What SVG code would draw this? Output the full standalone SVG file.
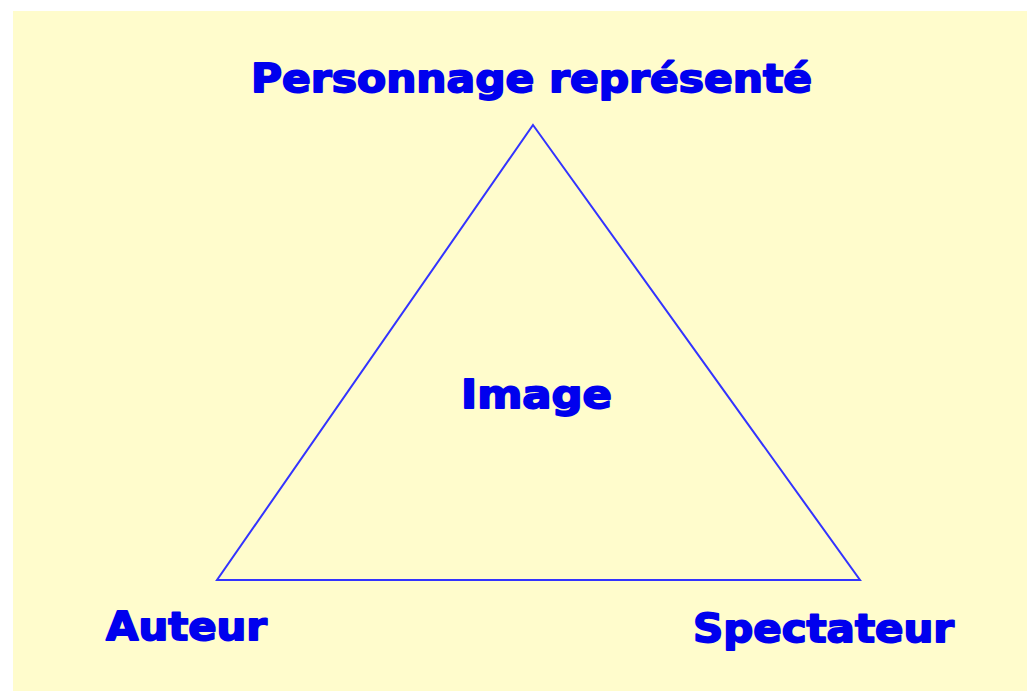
<svg xmlns="http://www.w3.org/2000/svg" width="1035" height="691" viewBox="0 0 1035 691">
<style>
.lbl{font-family:"DejaVu Sans","Liberation Sans",sans-serif;font-weight:bold;fill:#0000ee;stroke:#0000ee;stroke-width:1.8;stroke-linejoin:round;font-size:39px}
.edge{stroke:#3333ff;stroke-width:2;fill:none;stroke-linejoin:miter}
</style>
<rect x="0" y="0" width="1035" height="691" fill="#ffffff"/>
<rect x="13" y="11" width="1014" height="680" fill="#fffccc"/>
<g id="connectors">
<polygon class="edge" points="533,125 860,580 217,580"/>
</g>
<g id="node-personnage"><text class="lbl" x="251" y="92" textLength="561" lengthAdjust="spacingAndGlyphs">Personnage représenté</text></g>
<g id="node-image"><text class="lbl" x="461" y="408" textLength="151" lengthAdjust="spacingAndGlyphs">Image</text></g>
<g id="node-auteur"><text class="lbl" x="106" y="640" textLength="161" lengthAdjust="spacingAndGlyphs">Auteur</text></g>
<g id="node-spectateur"><text class="lbl" x="693" y="642" textLength="261" lengthAdjust="spacingAndGlyphs">Spectateur</text></g>
</svg>
